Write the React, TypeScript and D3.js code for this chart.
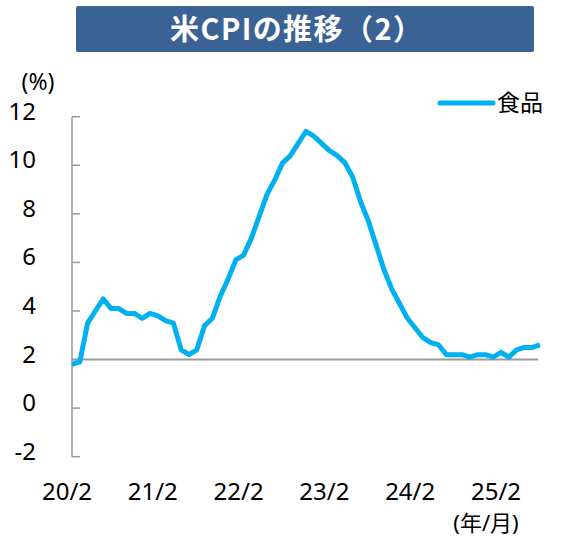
import * as d3 from 'd3';

// 食品 CPI (前年比, %), 2020/2 - 2025/2 monthly
const foodYoY: number[] = [
    1.8, 1.9, 3.5, 4.0, 4.5, 4.1, 4.1, 3.9, 3.9, 3.7, 3.9, 3.8,
    3.6, 3.5, 2.4, 2.2, 2.4, 3.4, 3.7, 4.6, 5.3, 6.1, 6.3, 7.0,
    7.9, 8.8, 9.4, 10.1, 10.4, 10.9, 11.4, 11.2, 10.9, 10.6, 10.4, 10.1,
    9.5, 8.5, 7.7, 6.7, 5.7, 4.9, 4.3, 3.7, 3.3, 2.9, 2.7, 2.6,
    2.2, 2.2, 2.2, 2.1, 2.2, 2.2, 2.1, 2.3, 2.1, 2.4, 2.5, 2.5,
    2.6,
];
const xTickLabels = ['20/2', '21/2', '22/2', '23/2', '24/2', '25/2'];
const yTicks = [-2, 0, 2, 4, 6, 8, 10, 12];
const baselineValue = 2;
const seriesName = '食品';
const title = '米CPIの推移（2）';

const W = 567;
const H = 538;
const font = "'Noto Sans', 'Noto Sans CJK JP', sans-serif";
const lineColor = '#00B0F0';
const axisColor = '#999999';

export default function App() {
    const x = d3.scaleLinear().domain([0, foodYoY.length - 1]).range([72, 540]);
    const y = d3.scaleLinear().domain([-2, 12]).range([456.7, 116.7]);
    const labelX = d3.scalePoint<string>().domain(xTickLabels).range([67, 496]);

    const line = d3
        .line<number>()
        .x((_, i) => x(i))
        .y((d) => y(d));

    return (
        <svg
            width={W}
            height={H}
            style={{ position: 'absolute', left: 0, top: 0 }}
            fontFamily={font}
        >
            <rect width={W} height={H} fill="#fff" />

            {/* title banner */}
            <rect x={76} y={6} width={458} height={46} rx={2} fill="#3B6295" />
            <text
                x={170}
                y={39.5}
                textLength={252}
                lengthAdjust="spacing"
                fill="#fff"
                fontWeight="bold"
                fontSize={29}
                fontFamily="'Noto Sans CJK JP', sans-serif"
            >
                {title}
            </text>

            {/* unit */}
            <text x={38} y={90} textAnchor="middle" fontSize={23} fill="#000">
                (%)
            </text>

            {/* y axis */}
            <line x1={72} x2={72} y1={y(12)} y2={y(-2)} stroke={axisColor} strokeWidth={1.5} />
            {yTicks.map((t) => (
                <g key={t}>
                    <line x1={72} x2={80} y1={y(t)} y2={y(t)} stroke={axisColor} strokeWidth={1.5} />
                    <text x={36} y={y(t) + 3} textAnchor="end" fontSize={24} fill="#000">
                        {t}
                    </text>
                </g>
            ))}

            {/* category axis crossing at 2 */}
            <line
                x1={x(0)}
                x2={x(foodYoY.length - 1) - 2}
                y1={y(baselineValue)}
                y2={y(baselineValue)}
                stroke={axisColor}
                strokeWidth={2}
            />

            {xTickLabels.map((l) => (
                <text key={l} x={labelX(l)} y={500} textAnchor="middle" fontSize={24} fill="#000">
                    {l}
                </text>
            ))}
            <text x={486} y={531} textAnchor="middle" fontSize={22} fill="#000">
                (年/月)
            </text>

            {/* series */}
            <path
                d={line(foodYoY) ?? ''}
                fill="none"
                stroke={lineColor}
                strokeWidth={5}
                strokeLinejoin="round"
            />

            {/* legend */}
            <line x1={440} x2={493} y1={103} y2={103} stroke={lineColor} strokeWidth={5} strokeLinecap="round" />
            <text x={497} y={111} fontSize={23} fill="#000">
                {seriesName}
            </text>
        </svg>
    );
}
